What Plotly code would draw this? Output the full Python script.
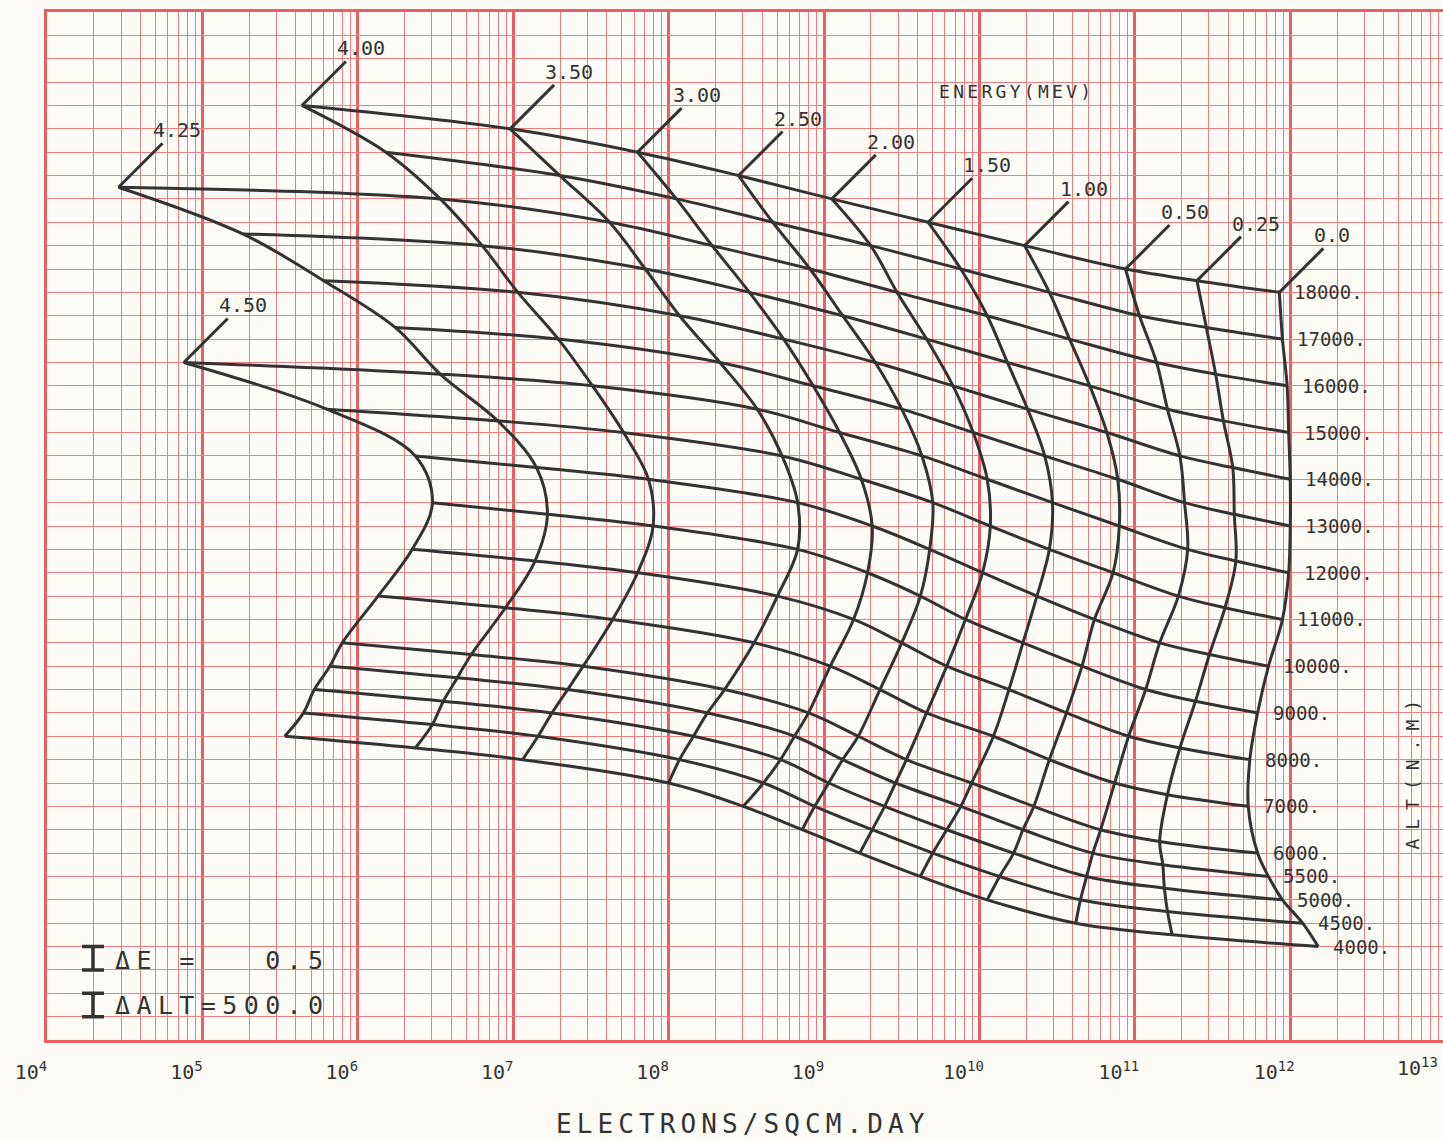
import plotly.graph_objects as go

# ---------------- data ----------------
altitudes = [4000, 4500, 5000, 5500, 6000, 7000, 8000, 9000, 10000,
             11000, 12000, 13000, 14000, 15000, 16000, 17000, 18000]
alt_labels = ["4000.", "4500.", "5000.", "5500.", "6000.", "7000.", "8000.", "9000.",
              "10000.", "11000.", "12000.", "13000.", "14000.", "15000.", "16000.",
              "17000.", "18000."]
energies = [0.0, 0.25, 0.5, 1.0, 1.5, 2.0, 2.5, 3.0, 3.5, 4.0, 4.25, 4.5]
energy_labels = ["0.0", "0.25", "0.50", "1.00", "1.50", "2.00", "2.50", "3.00",
                 "3.50", "4.00", "4.25", "4.50"]
tick_exponents = [4, 5, 6, 7, 8, 9, 10, 11, 12, 13]

# log10(electrons / sqcm.day), listed from ALT 4000 upward
log_flux_e000 = [12.18, 12.08, 11.95, 11.86, 11.79, 11.73, 11.74, 11.79, 11.86, 11.95, 11.99, 12.00, 12.00, 11.99, 11.98, 11.95, 11.93]
log_flux_e025 = [11.24, 11.21, 11.19, 11.18, 11.16, 11.21, 11.29, 11.39, 11.48, 11.58, 11.65, 11.64, 11.63, 11.57, 11.52, 11.46, 11.40]
log_flux_e050 = [10.62, 10.65, 10.69, 10.73, 10.78, 10.87, 10.96, 11.07, 11.16, 11.28, 11.34, 11.32, 11.29, 11.21, 11.14, 11.03, 10.94]
log_flux_e100 = [10.05, 10.13, 10.22, 10.28, 10.35, 10.45, 10.56, 10.66, 10.74, 10.86, 10.90, 10.89, 10.82, 10.71, 10.58, 10.45, 10.29]
log_flux_e150 = [9.62, 9.70, 9.79, 9.88, 9.95, 10.09, 10.19, 10.28, 10.37, 10.45, 10.47, 10.42, 10.31, 10.18, 10.05, 9.88, 9.67]
log_flux_e200 = [9.23, 9.31, 9.39, 9.46, 9.53, 9.66, 9.79, 9.91, 10.02, 10.07, 10.05, 9.96, 9.83, 9.66, 9.47, 9.30, 9.05]
log_flux_e250 = [8.86, 8.94, 9.03, 9.12, 9.22, 9.36, 9.50, 9.62, 9.68, 9.70, 9.63, 9.50, 9.33, 9.12, 8.91, 8.67, 8.45]
log_flux_e300 = [8.48, 8.61, 8.72, 8.81, 8.90, 9.04, 9.19, 9.28, 9.31, 9.24, 9.10, 8.93, 8.74, 8.52, 8.28, 8.05, 7.80]
log_flux_e350 = [8.00, 8.07, 8.16, 8.25, 8.36, 8.55, 8.70, 8.83, 8.83, 8.73, 8.57, 8.33, 8.07, 7.85, 7.62, 7.30, 6.98]
log_flux_e400 = [7.06, 7.16, 7.25, 7.35, 7.45, 7.64, 7.80, 7.90, 7.87, 7.71, 7.51, 7.29, 7.03, 6.80, 6.53, 6.18, 5.64]
log_flux_e425 = [6.37, 6.48, 6.55, 6.64, 6.73, 6.95, 7.14, 7.22, 7.15, 6.90, 6.53, 6.24, 5.78, 5.26, 4.46]   # ALT 4000..16000
log_flux_e450 = [5.53, 5.65, 5.72, 5.82, 5.90, 6.13, 6.35, 6.48, 6.37, 5.80, 4.88]                       # ALT 4000..12000

delta_e = 0.5
delta_alt = 500.0
carpet_shift = delta_alt / delta_e      # vertical offset per MeV (cheater axis)

series = dict(zip(energies, [log_flux_e000, log_flux_e025, log_flux_e050, log_flux_e100,
                             log_flux_e150, log_flux_e200, log_flux_e250, log_flux_e300,
                             log_flux_e350, log_flux_e400, log_flux_e425, log_flux_e450]))

# ---------------- geometry / style ----------------
W, H = 1443, 1141
M = dict(l=47, r=0, t=12, b=101)
X_RANGE = [4, 12.983]
Y_RANGE = [2000, 24000]
px_per_decade = (W - M["l"] - M["r"]) / (X_RANGE[1] - X_RANGE[0])
px_per_unit = (H - M["t"] - M["b"]) / (Y_RANGE[1] - Y_RANGE[0])
LEADER_PX = 44

BG = "#FCFBF6"
MAJOR = "#EA5F5F"
MINOR = "#F17E7E"
INK = "#333333"
FONT = "DejaVu Sans Mono"


def sp(text, ls):
    return f'<span style="letter-spacing:{ls}px">{text}</span>'


line_style = dict(color=INK, width=3, shape="spline", smoothing=1.0)
fig = go.Figure()

# constant-energy curves
for e in energies:
    vals = series[e]
    alts = altitudes[:len(vals)]
    fig.add_trace(go.Scatter(
        x=[10 ** v for v in vals], y=[a + carpet_shift * e for a in alts],
        mode="lines", line=line_style, hoverinfo="skip", showlegend=False))

# constant-altitude curves
for i, a in enumerate(altitudes):
    es = [e for e in energies if len(series[e]) > i]
    fig.add_trace(go.Scatter(
        x=[10 ** series[e][i] for e in es], y=[a + carpet_shift * e for e in es],
        mode="lines", line=line_style, hoverinfo="skip", showlegend=False))

annotations = []
# energy labels with leader lines from the top node of each curve
for e, lab in zip(energies, energy_labels):
    vals = series[e]
    xl = vals[-1]
    yt = altitudes[len(vals) - 1] + carpet_shift * e
    fig.add_trace(go.Scatter(
        x=[10 ** xl, 10 ** (xl + LEADER_PX / px_per_decade)],
        y=[yt, yt + LEADER_PX / px_per_unit],
        mode="lines", line=dict(color=INK, width=3), hoverinfo="skip", showlegend=False))
    annotations.append(dict(x=xl, y=yt, xref="x", yref="y", text=lab, showarrow=False,
                            xanchor="left", yanchor="middle", xshift=33, yshift=57,
                            font=dict(family=FONT, size=20, color=INK)))

# altitude labels at the E=0 edge
for a, lab, v in zip(altitudes, alt_labels, log_flux_e000):
    annotations.append(dict(x=v, y=a, xref="x", yref="y", text=lab, showarrow=False,
                            xanchor="left", yanchor="middle", xshift=13,
                            font=dict(family=FONT, size=19, color=INK)))

# scale bars (delta E, delta ALT)
legend_x = 10 ** 4.296
for yc in [4000 - delta_e * carpet_shift / 2, 3000 - delta_alt / 2]:
    fig.add_trace(go.Scatter(
        x=[legend_x], y=[yc], mode="markers", marker=dict(size=1, color=INK),
        error_y=dict(type="constant", value=delta_alt / 2, width=11, thickness=3.5, color=INK),
        hoverinfo="skip", showlegend=False))

annotations += [
    dict(x=0.695, y=0.923, xref="paper", yref="paper", text=sp("ENERGY(MEV)", 3.3),
         xanchor="center", yanchor="middle", showarrow=False,
         font=dict(family=FONT, size=18, color=INK)),
    dict(x=0.9785, y=0.263, xref="paper", yref="paper", text=sp("ALT(N.M)", 9),
         xanchor="center", yanchor="middle", textangle=-90, showarrow=False,
         font=dict(family=FONT, size=18, color=INK)),
    dict(x=0.4986, y=-0.0818, xref="paper", yref="paper", text=sp("ELECTRONS/SQCM.DAY", 5.1),
         xanchor="center", yanchor="middle", showarrow=False,
         font=dict(family=FONT, size=26, color=INK)),
    dict(x=0.0473, y=0.0778, xref="paper", yref="paper",
         text=sp("\u0394E\u00a0=\u00a0\u00a0\u00a00.5", 6.4), xanchor="left", yanchor="middle",
         showarrow=False, font=dict(family=FONT, size=25, color=INK)),
    dict(x=0.0473, y=0.0331, xref="paper", yref="paper", text=sp("\u0394ALT=500.0", 6.4),
         xanchor="left", yanchor="middle", showarrow=False,
         font=dict(family=FONT, size=25, color=INK)),
    # last decade label sits just past the paper edge in the original
    dict(x=1, y=0, xref="paper", yref="paper", text=f"10<sup>{tick_exponents[-1]}</sup>",
         showarrow=False, xanchor="right", yanchor="top", xshift=-3, yshift=-12,
         font=dict(family=FONT, size=20, color=INK)),
]

decades = tick_exponents[:-1]
minor_vals = [m * 10 ** k for k in decades for m in range(2, 10)]

fig.update_layout(
    width=W, height=H, margin=M,
    paper_bgcolor=BG, plot_bgcolor=BG, showlegend=False, annotations=annotations)

fig.update_xaxes(
    type="log", range=X_RANGE, tickmode="array",
    tickvals=[10 ** k for k in decades],
    ticktext=[f"10<sup>{k}</sup>" for k in decades],
    showgrid=True, gridcolor=MAJOR, gridwidth=3, ticks="", zeroline=False,
    showline=True, linecolor=MAJOR, linewidth=3, mirror=True,
    tickfont=dict(family=FONT, size=20, color=INK),
    ticklabelshift=-16, ticklabelstandoff=12,
    minor=dict(tickmode="array", tickvals=minor_vals, showgrid=True,
               gridcolor=MINOR, gridwidth=1.2, ticks=""))

fig.update_yaxes(
    range=Y_RANGE, tick0=0, dtick=500, showgrid=True, gridcolor=MINOR, gridwidth=1.2,
    showticklabels=False, ticks="", zeroline=False,
    showline=True, linecolor=MAJOR, linewidth=3, mirror=False)

fig.write_html("out.html", config={"displayModeBar": False},
               post_script="document.body.style.margin='0';")
